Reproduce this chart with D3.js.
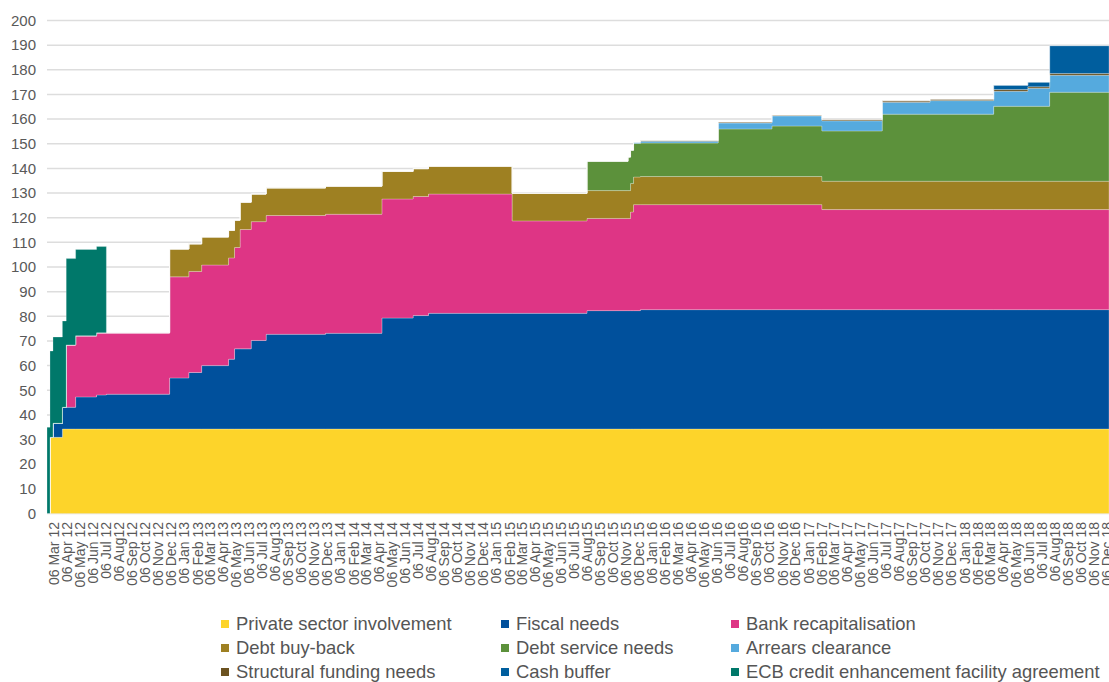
<!DOCTYPE html>
<html>
<head>
<meta charset="utf-8">
<script src="https://cdn.jsdelivr.net/npm/d3@7"></script>
<style>
  html, body { margin: 0; padding: 0; background: #ffffff; }
  svg { display: block; font-family: "Liberation Sans", Arial, sans-serif; }
</style>
</head>
<body>
<svg id="chart" width="1109" height="682"></svg>
<script>
// ---------------- DATA ----------------
const dates = [
  "2012-02-19","2012-02-26","2012-03-04","2012-03-26","2012-04-04","2012-04-26",
  "2012-06-14","2012-07-07","2012-12-02","2013-01-16","2013-02-15","2013-04-19",
  "2013-05-03","2013-05-16","2013-06-11","2013-07-16","2013-12-02","2014-04-13",
  "2014-06-25","2014-07-31","2015-02-12","2015-08-06","2015-11-10","2015-11-16",
  "2015-11-23","2015-12-09","2016-06-08","2016-10-12","2017-02-06","2017-06-27",
  "2017-10-17","2018-03-15","2018-06-03","2018-07-24","2018-12-10"
];
const privateSector = [0,30.9,30.9,34.3,34.3,34.3,34.3,34.3,34.3,34.3,34.3,34.3,34.3,34.3,34.3,34.3,34.3,34.3,34.3,34.3,34.3,34.3,34.3,34.3,34.3,34.3,34.3,34.3,34.3,34.3,34.3,34.3,34.3,34.3,34.3];
const fiscalNeeds   = [0,0,5.7,8.8,8.8,13.0,13.8,14.1,20.7,22.9,25.7,28.3,32.5,32.5,35.9,38.4,38.8,45.0,46.0,46.9,46.9,48.0,48.0,48.0,48.0,48.4,48.4,48.4,48.4,48.4,48.4,48.4,48.4,48.4,48.4];
const bankRecap     = [0,0,0,0,25.3,24.8,25.2,24.9,41.0,41.0,40.8,41.1,41.1,48.4,48.2,48.2,48.3,48.3,48.3,48.4,37.5,37.4,37.4,40.0,43.0,42.6,42.6,42.6,40.6,40.6,40.6,40.6,40.6,40.6,40.6];
const debtBuyBack   = [0,0,0,0,0,0,0,0,11.3,11.2,11.4,11.2,11.1,11.1,11.2,11.2,11.4,11.2,11.3,11.3,11.2,11.3,11.3,11.6,11.2,11.4,11.4,11.4,11.5,11.5,11.5,11.5,11.5,11.5,11.5];
const debtService   = [0,0,0,0,0,0,0,0,0,0,0,0,0,0,0,0,0,0,0,0,0,11.9,13.6,13.5,13.6,13.6,19.3,20.5,20.4,27.2,27.2,30.4,30.4,36.1,36.1];
const arrears       = [0,0,0,0,0,0,0,0,0,0,0,0,0,0,0,0,0,0,0,0,0,0,0,0,0.5,0.7,2.4,4.1,4.1,4.8,5.5,6.1,7.3,6.9,6.9];
const structural    = [0,0,0,0,0,0,0,0,0,0,0,0,0,0,0,0,0,0,0,0,0,0,0,0,0,0.3,0.4,0.3,0.5,0.6,0.6,0.7,0.6,0.7,0.7];
const cashBuffer    = [0,0,0,0,0,0,0,0,0,0,0,0,0,0,0,0,0,0,0,0,0,0,0,0,0,0,0,0,0,0,0,1.7,1.9,11.3,11.3];
const ecbCredit     = [35,35,35,35,35,35,35,0,0,0,0,0,0,0,0,0,0,0,0,0,0,0,0,0,0,0,0,0,0,0,0,0,0,0,0];

const seriesNames = [
  "Private sector involvement","Fiscal needs","Bank recapitalisation",
  "Debt buy-back","Debt service needs","Arrears clearance",
  "Structural funding needs","Cash buffer","ECB credit enhancement facility agreement"
];
const seriesColors = ["#fdd42a","#00509c","#de3585","#9e8022","#5c913b","#55aade","#6b5220","#005e9e","#00786a"];
const yTicks = d3.range(0, 201, 10);
const tickMonths = d3.timeMonth.range(new Date(2012, 2, 1), new Date(2019, 0, 1)).map(d => new Date(d.getFullYear(), d.getMonth(), 6));
const monthNames = ["Jan","Feb","Mar","Apr","May","Jun","Jul","Aug","Sep","Oct","Nov","Dec"];
const tickLabels = tickMonths.map(d => "06 " + monthNames[d.getMonth()] + (d.getMonth() === 7 ? "" : " ") + String(d.getFullYear()).slice(2));

// ---------------- BUILD ----------------
const parse = d3.timeParse("%Y-%m-%d");
const seriesArrays = [privateSector, fiscalNeeds, bankRecap, debtBuyBack, debtService, arrears, structural, cashBuffer, ecbCredit];
const rows = dates.map((d, i) => {
  const r = { date: parse(d) };
  seriesNames.forEach((k, j) => r[k] = seriesArrays[j][i]);
  return r;
});

const svg = d3.select("#chart");
const plotLeft = 47, plotRight = 1109, plotTop = 20.5, plotBottom = 513.5;

const x = d3.scaleTime()
  .domain([parse("2012-02-19"), parse("2018-12-10")])
  .range([plotLeft, plotRight]);
const y = d3.scaleLinear().domain([0, 200]).range([plotBottom, plotTop]);

// gridlines
svg.append("g").selectAll("line").data(yTicks).join("line")
  .attr("x1", plotLeft).attr("x2", plotRight)
  .attr("y1", d => y(d)).attr("y2", d => y(d))
  .attr("stroke", "#dddddd").attr("stroke-width", 1.5);

// y labels
svg.append("g").selectAll("text").data(yTicks).join("text")
  .attr("x", 36).attr("y", d => y(d)).attr("dy", "0.35em")
  .attr("text-anchor", "end")
  .attr("font-size", 15).attr("fill", "#595959")
  .text(d => d);

// stacked areas
const stack = d3.stack().keys(seriesNames);
const stacked = stack(rows);
const area = d3.area()
  .curve(d3.curveStepAfter)
  .x(d => x(d.data.date))
  .y0(d => y(d[0]))
  .y1(d => y(d[1]));

svg.append("clipPath").attr("id", "plotclip")
  .append("rect").attr("x", plotLeft).attr("y", 0).attr("width", plotRight - plotLeft).attr("height", plotBottom + 1);

svg.append("g").attr("clip-path", "url(#plotclip)")
  .selectAll("path").data(stacked).join("path")
  .attr("d", area)
  .attr("fill", (d, i) => seriesColors[i])
  .attr("stroke", "rgba(255,255,255,0.35)")
  .attr("stroke-width", 0.7);

// x labels
const xg = svg.append("g");
xg.selectAll("text").data(tickMonths).join("text")
  .attr("transform", d => `translate(${x(d)},522) rotate(-90)`)
  .attr("dy", "0.35em")
  .attr("text-anchor", "end")
  .attr("font-size", 14).attr("fill", "#595959")
  .text((d, i) => tickLabels[i]);

// legend
const legendCols = [221, 501, 731];
const legendRows = [624, 648, 672];
const lg = svg.append("g");
seriesNames.forEach((name, i) => {
  const cx = legendCols[i % 3], cy = legendRows[Math.floor(i / 3)];
  lg.append("rect").attr("x", cx).attr("y", cy - 4).attr("width", 8).attr("height", 8)
    .attr("fill", seriesColors[i]);
  lg.append("text").attr("x", cx + 15).attr("y", cy).attr("dy", "0.35em")
    .attr("font-size", 18.4).attr("fill", "#555555").text(name);
});
</script>
</body>
</html>
